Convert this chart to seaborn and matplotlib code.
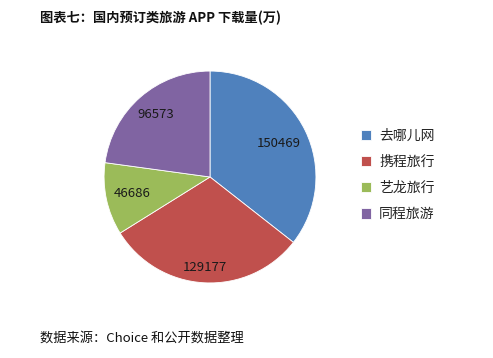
import numpy as np
import matplotlib
matplotlib.use("Agg")
import matplotlib.pyplot as plt
import seaborn as sns

# Data
apps = ["去哪儿网", "携程旅行", "艺龙旅行", "同程旅游"]
downloads = [150469, 129177, 46686, 96573]
colors = ["#4F81BD", "#C0504D", "#9BBB59", "#8064A2"]
label_dist = [0.72, 0.86, 0.75, 0.78]

sns.set_theme(style="white")
plt.rcParams["font.family"] = ["Noto Sans CJK SC", "DejaVu Sans"]

fig = plt.figure(figsize=(4.93, 3.58), dpi=100)
ax = fig.add_axes([103 / 493, 74 / 358, 214 / 493, 214 / 358])

wedges, _ = ax.pie(downloads, colors=colors, startangle=90, counterclock=False,
                   wedgeprops=dict(edgecolor="white", linewidth=0.6))
ax.set_xlim(-1.01, 1.01)
ax.set_ylim(-1.01, 1.01)
ax.set_aspect("equal")

# value labels inside each wedge
for w, v, d in zip(wedges, downloads, label_dist):
    ang = np.deg2rad((w.theta1 + w.theta2) / 2)
    ax.text(d * np.cos(ang), d * np.sin(ang), str(v), ha="center", va="center",
            fontsize=9.5, color="#1a1a1a")

fig.legend(wedges, apps, loc="center left", bbox_to_anchor=(348 / 493, 1 - 175 / 358),
           frameon=False, fontsize=10, handlelength=0.75, handleheight=0.75,
           handletextpad=0.6, labelspacing=0.88)

fig.text(40 / 493, 1 - 18 / 358, "图表七：国内预订类旅游 APP 下载量(万)",
         fontsize=9.5, fontweight="bold", va="center", ha="left", color="#111111")
fig.text(40 / 493, 1 - 338 / 358, "数据来源：Choice 和公开数据整理",
         fontsize=9.5, va="center", ha="left", color="#111111")

fig.savefig("out.png", dpi=100)
